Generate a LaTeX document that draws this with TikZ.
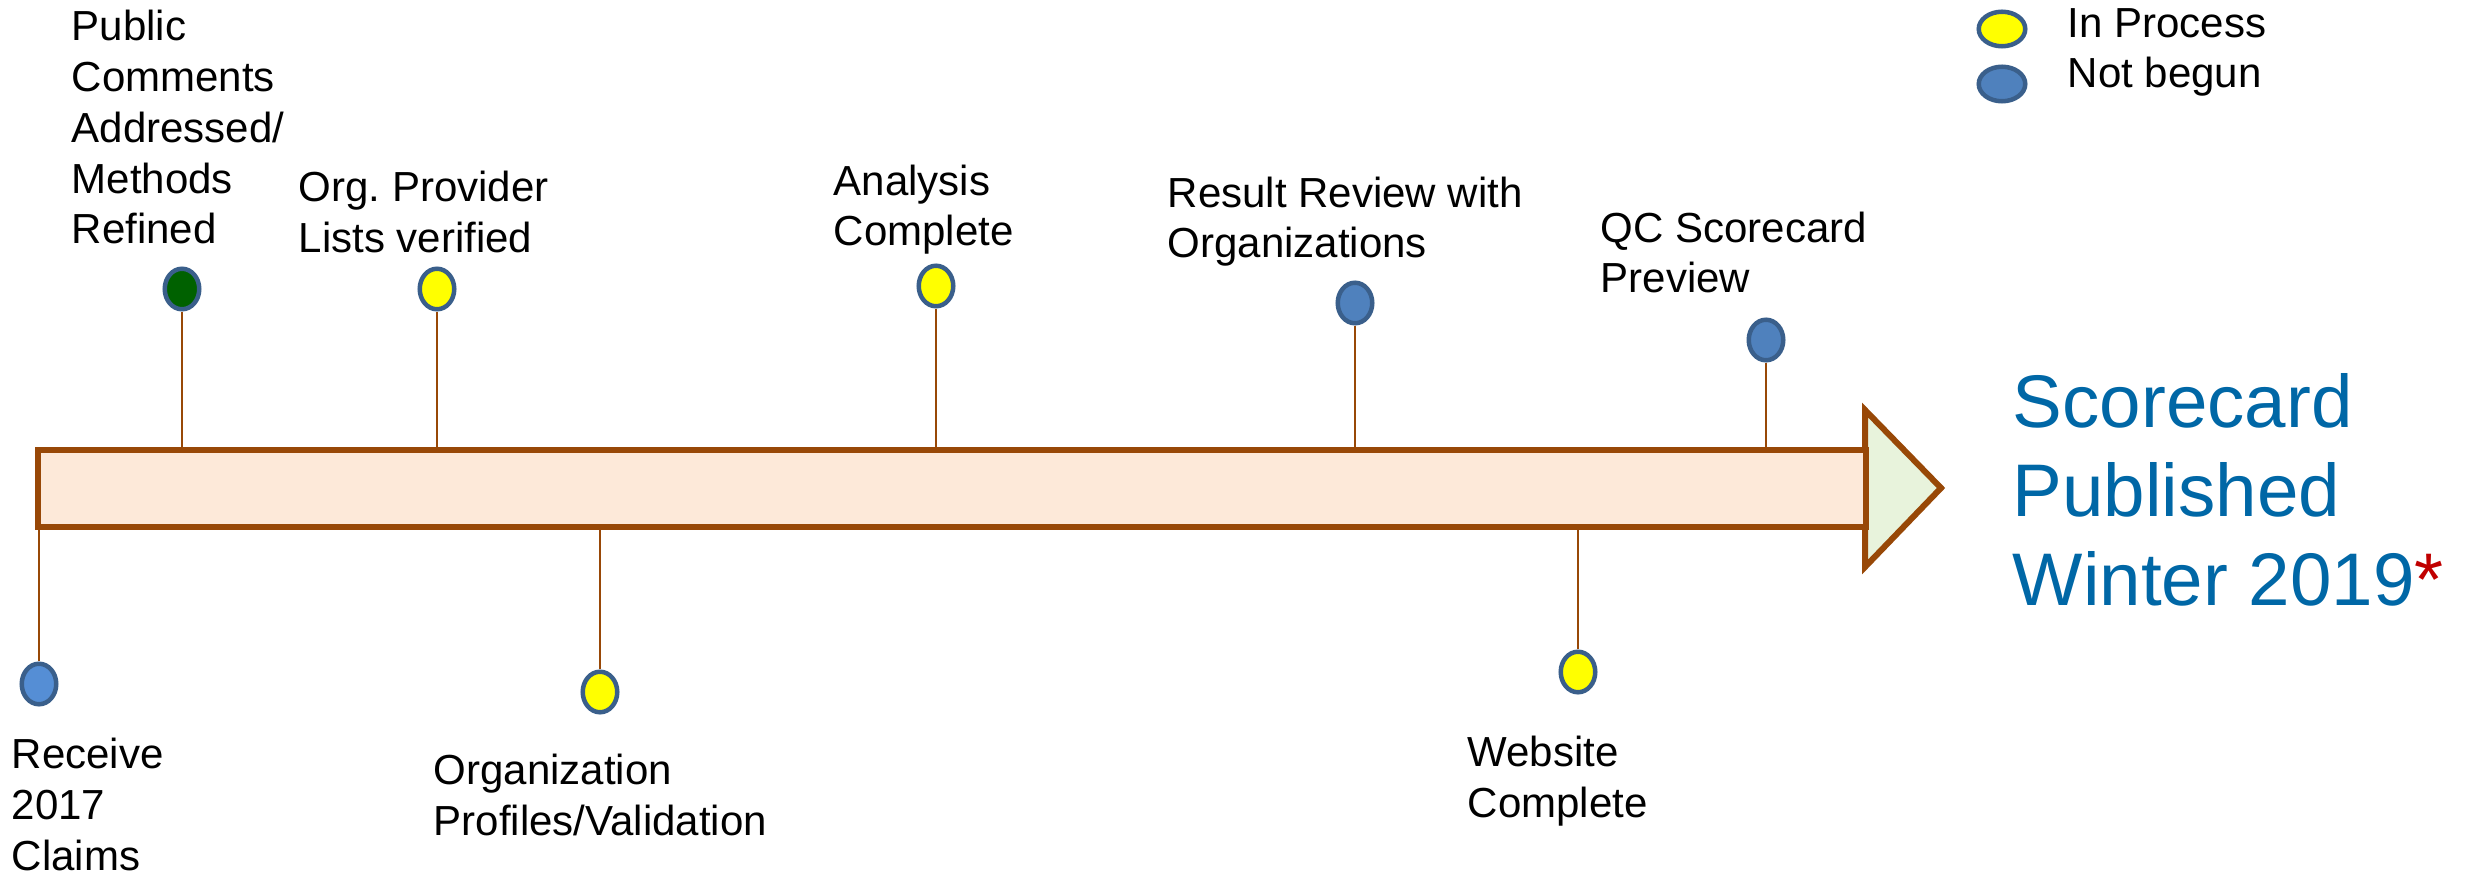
\documentclass[tikz,border=0pt]{standalone}
\usepackage{fontspec}
\setmainfont{Liberation Sans}
\usetikzlibrary{shapes.geometric}
\frenchspacing
\definecolor{brn}{HTML}{984807}
\definecolor{barfill}{HTML}{FDE9D9}
\definecolor{arrowfill}{HTML}{E8F3DC}
\definecolor{dotline}{HTML}{3A5F8B}
\definecolor{dotblue}{HTML}{4F81BD}
\definecolor{dotlight}{HTML}{558ED5}
\definecolor{dotyellow}{HTML}{FFFF00}
\definecolor{dotgreen}{HTML}{006100}
\definecolor{titleblue}{HTML}{0067A6}
\definecolor{astred}{HTML}{C00000}
\begin{document}
\begin{tikzpicture}[x=0.01cm,y=-0.01cm,
  lbl/.style={anchor=base west, inner sep=0pt, align=left, font=\fontsize{11.95}{14.45}\selectfont},
  dot/.style={ellipse, draw=dotline, line width=1.28pt, inner sep=0pt, minimum width=0.345cm, minimum height=0.405cm},
  legdot/.style={dot, minimum width=0.465cm, minimum height=0.345cm},
  stem/.style={draw=brn, line width=0.6pt},
  barline/.style={draw=brn, line width=1.71pt, miter limit=10}]
\useasboundingbox (0,0) rectangle (2466,876);
\coordinate (bartop) at (0,450);
\coordinate (barbot) at (0,527);

% timeline arrow
\path[barline, fill=arrowfill] (1865,410) -- (1941,488) -- (1865,567) -- cycle;
\path[barline, fill=barfill] (38,450) rectangle (1866,527);

% dots
\node[dot, fill=dotgreen]  (pub)  at (182,289) {};
\node[dot, fill=dotyellow] (org)  at (437,289) {};
\node[dot, fill=dotyellow] (ana)  at (936,286) {};
\node[dot, fill=dotblue]   (res)  at (1355,303) {};
\node[dot, fill=dotblue]   (qc)   at (1766,340) {};
\node[dot, fill=dotlight]  (rec)  at (39,684) {};
\node[dot, fill=dotyellow] (orgp) at (600,692) {};
\node[dot, fill=dotyellow] (web)  at (1578,672) {};

% stems
\draw[stem] (pub.south) -- (pub.south |- bartop);
\draw[stem] (org.south) -- (org.south |- bartop);
\draw[stem] (ana.south) -- (ana.south |- bartop);
\draw[stem] (res.south) -- (res.south |- bartop);
\draw[stem] (qc.south) -- (qc.south |- bartop);
\draw[stem] (rec.north) -- (rec.north |- barbot);
\draw[stem] (orgp.north) -- (orgp.north |- barbot);
\draw[stem] (web.north) -- (web.north |- barbot);

% labels (anchor = baseline of last line)
\node[lbl] (tpub)  at (71,244)   {Public\\Comments\\Addressed/\\Methods\\Refined};
\node[lbl] (torg)  at (298,252)  {Org. Provider\\Lists verified};
\node[lbl] (tana)  at (833,246)  {Analysis\\Complete};
\node[lbl] (tres)  at (1167,258) {Result Review with\\Organizations};
\node[lbl] (tqc)   at (1600,293) {QC Scorecard\\Preview};
\node[lbl] (trec)  at (11,870)   {Receive\\2017\\Claims};
\node[lbl] (torgp) at (433,835)  {Organization\\Profiles/Validation};
\node[lbl] (tweb)  at (1467,817) {Website\\Complete};

% legend
\node[legdot, fill=dotyellow] (lgy) at (2002,29) {};
\node[legdot, fill=dotblue]   (lgb) at (2002,84) {};
\node[lbl] (tlgy) at (2067,38) {In Process};
\node[lbl] (tlgb) at (2067,88) {Not begun};

% destination
\node[anchor=base west, inner sep=0pt, align=left, text=titleblue,
      font=\fontsize{21.2}{25.3}\selectfont] (pubd) at (2012,605)
      {Scorecard\\Published\\Winter 2019{\color{astred}*}};
\end{tikzpicture}
\end{document}
